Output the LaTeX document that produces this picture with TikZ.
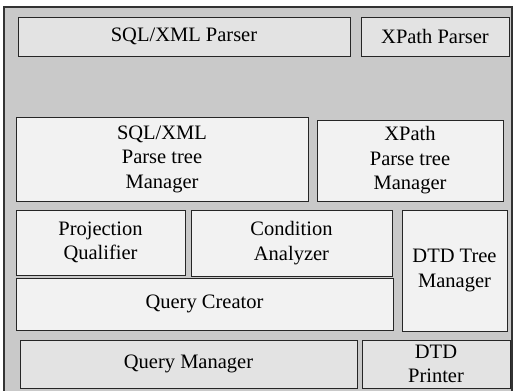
\documentclass[tikz,border=0pt]{standalone}
\usepackage{fontspec}
\newfontfamily\boxfont{Liberation Serif}
\begin{document}
\begin{tikzpicture}[x=1pt,y=-1pt,
  blk/.style={draw=black!85,line width=0.8pt,fill=white!95!black,
    inner sep=0pt,align=center,font=\boxfont\fontsize{20.5}{24.5}\selectfont},
  blkgray/.style={blk,fill=white!89!black}]
\useasboundingbox (0,0) rectangle (515,391);
\fill[white] (0,0) rectangle (515,391);
% outer frame with grey ground
\draw[line width=1.3pt,draw=black!80,fill=black!21] (4,7) rectangle (512,392);
% parser layer
\node[blkgray,minimum width=332,minimum height=39] (sqlp) at (184,36.5) {SQL/XML Parser};
\node[blkgray,minimum width=148,minimum height=39] (xpp) at (435,36.5) {XPath Parser};
% parse tree managers
\node[blk,minimum width=292,minimum height=84] (sqlm) at (162,159) {SQL/XML\\Parse tree\\Manager};
\node[blk,minimum width=186,minimum height=81] (xpm) at (410,160.5) {XPath\\Parse tree\\Manager};
% query construction
\node[blk,minimum width=169,minimum height=65] (proj) at (100.5,242.5) {Projection\\Qualifier};
\node[blk,minimum width=201,minimum height=66] (cond) at (291.5,243) {Condition\\Analyzer};
\node[blk,minimum width=377,minimum height=52] (qc) at (204.5,304) {Query Creator};
\node[blk,minimum width=105,minimum height=121] (dtdt) at (454.5,270.5) {DTD Tree\\Manager};
% bottom layer
\node[blkgray,minimum width=337,minimum height=48] (qm) at (188.5,364) {Query Manager};
\node[blkgray,minimum width=148,minimum height=48] (dtdp) at (436,364) {DTD\\Printer};
\end{tikzpicture}
\end{document}
